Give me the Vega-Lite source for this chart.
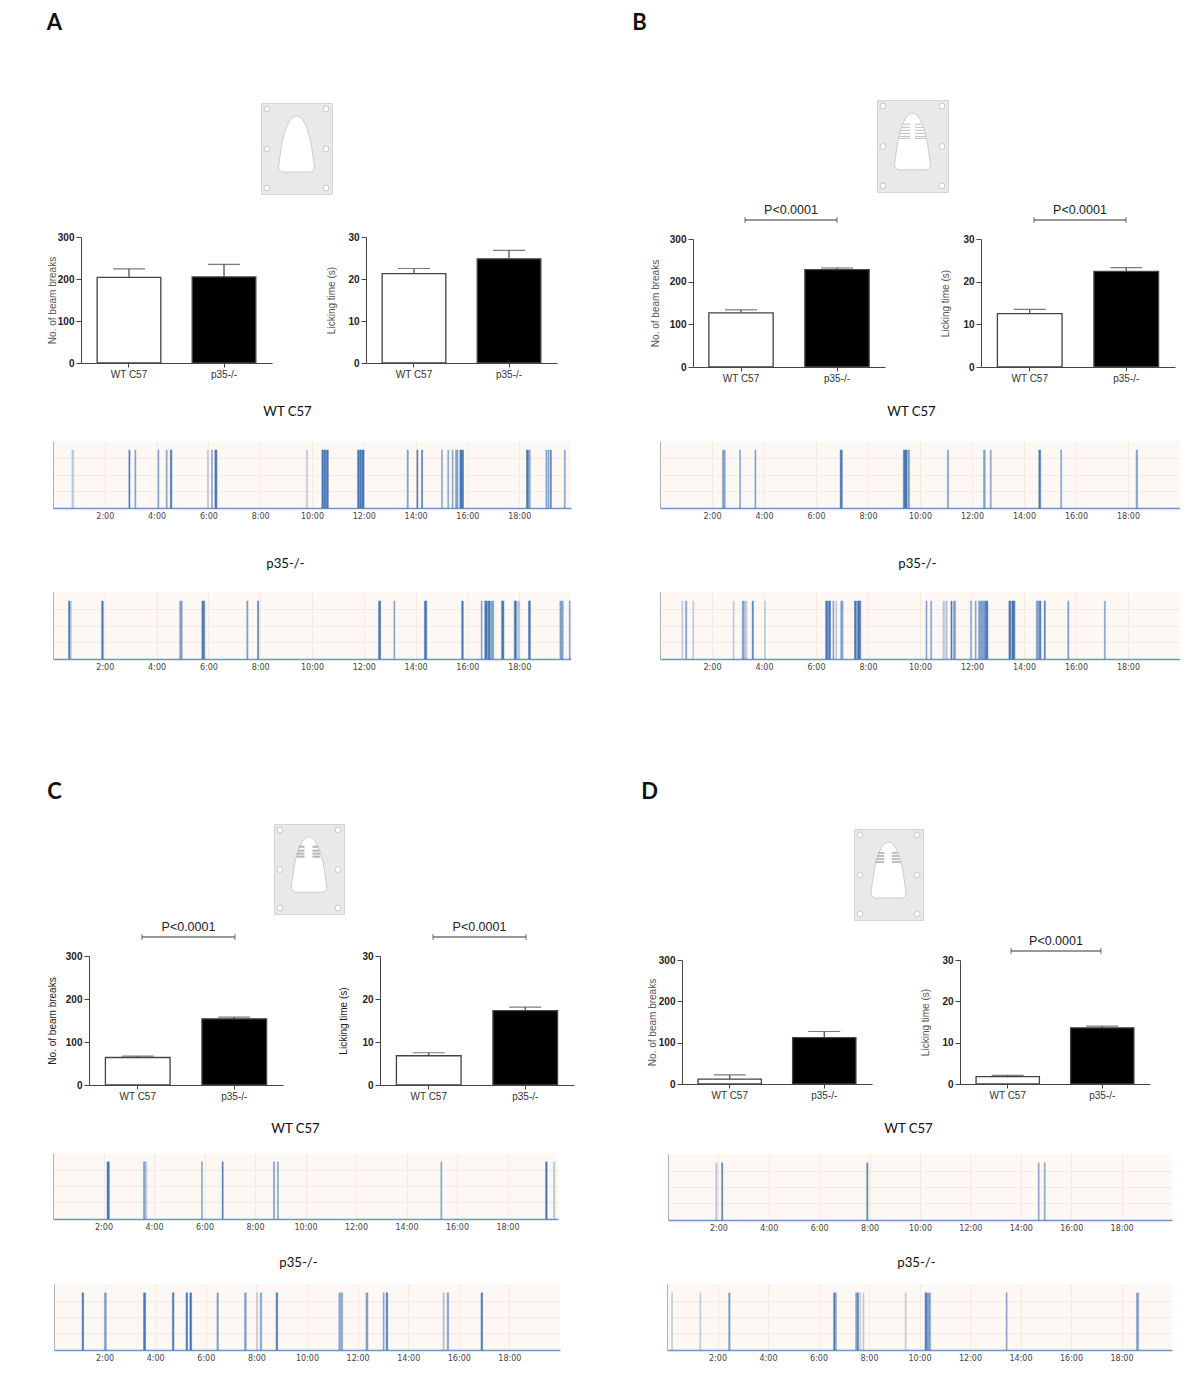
{"$schema":"https://vega.github.io/schema/vega-lite/v6.json","padding":0,"background":"white","bounds":"flush","spacing":0,
"config":{"view":{"stroke":null},"axis":{"grid":false,"labelFont":"Liberation Sans","titleFont":"Liberation Sans","labelFontSize":10,"titleFontSize":10,"titleFontWeight":"normal","labelColor":"#333","titleColor":"#555","domainColor":"#444","tickColor":"#444"},"axisY":{"labelFontWeight":"bold","labelColor":"#222","tickSize":5,"labelPadding":2},"axisX":{"labelAngle":0,"tickSize":4,"labelPadding":2},"text":{"font":"Liberation Sans"}},
"datasets":{
"e":[{}],
"hole":[{"a":6,"v":6},{"a":65,"v":6},{"a":6,"v":46},{"a":65,"v":46},{"a":6,"v":85},{"a":65,"v":85}],
"shape":[{"v":13,"a":35,"b":36},{"v":14,"a":32.5,"b":38.5},{"v":16,"a":30,"b":41},{"v":19,"a":28,"b":43},{"v":23,"a":26,"b":45},{"v":30,"a":23.5,"b":47.5},{"v":40,"a":21,"b":50},{"v":50,"a":19.5,"b":51.5},{"v":60,"a":18,"b":53},{"v":65,"a":17.5,"b":53.5},{"v":67.5,"a":19,"b":52},{"v":69,"a":21,"b":50}],
"slotB":[{"v":24,"a":26,"b":33},{"v":24,"a":38,"b":45},{"v":27,"a":25,"b":33},{"v":27,"a":38,"b":46},{"v":30,"a":24,"b":33},{"v":30,"a":38,"b":47},{"v":33,"a":23,"b":33},{"v":33,"a":38,"b":48},{"v":36,"a":22,"b":33},{"v":36,"a":38,"b":49},{"v":38,"a":22,"b":33},{"v":38,"a":38,"b":49}],
"slotC":[{"v":23,"a":25,"b":31},{"v":23,"a":39,"b":45},{"v":27,"a":24,"b":31},{"v":27,"a":39,"b":46},{"v":30,"a":23,"b":31},{"v":30,"a":39,"b":47},{"v":33,"a":23,"b":31},{"v":33,"a":39,"b":47}],
"slotD":[{"v":24,"a":25,"b":31},{"v":24,"a":39,"b":45},{"v":27,"a":24,"b":31},{"v":27,"a":39,"b":46},{"v":30,"a":23,"b":31},{"v":30,"a":39,"b":47},{"v":33,"a":22,"b":31},{"v":33,"a":39,"b":48}],
"barA1":[{"group":"WT C57","mean":204,"upper":224},{"group":"p35-/-","mean":205,"upper":235}],
"barA2":[{"group":"WT C57","mean":21.3,"upper":22.5},{"group":"p35-/-","mean":24.8,"upper":26.8}],
"barB1":[{"group":"WT C57","mean":127,"upper":134},{"group":"p35-/-","mean":228,"upper":232}],
"barB2":[{"group":"WT C57","mean":12.5,"upper":13.5},{"group":"p35-/-","mean":22.4,"upper":23.3}],
"barC1":[{"group":"WT C57","mean":64,"upper":67},{"group":"p35-/-","mean":154,"upper":158}],
"barC2":[{"group":"WT C57","mean":6.8,"upper":7.5},{"group":"p35-/-","mean":17.3,"upper":18.1}],
"barD1":[{"group":"WT C57","mean":12,"upper":22},{"group":"p35-/-","mean":112,"upper":127}],
"barD2":[{"group":"WT C57","mean":1.8,"upper":2.1},{"group":"p35-/-","mean":13.6,"upper":14}],
"pair":[{"group":"WT C57"},{"group":"p35-/-"}],
"pv":[{"t":"P<0.0001"}],
"wt":[{"t":"WT C57"}],
"ko":[{"t":"p35-/-"}],
"aw":[{"s":0.73,"e":0.80,"n":1},{"s":2.93,"e":2.97,"n":3},{"s":3.16,"e":3.2,"n":2},{"s":4.05,"e":4.09,"n":2},{"s":4.37,"e":4.41,"n":2},{"s":4.53,"e":4.59,"n":3},{"s":5.96,"e":6.0,"n":1},{"s":6.12,"e":6.16,"n":2},{"s":6.25,"e":6.33,"n":3},{"s":9.78,"e":9.83,"n":1},{"s":10.38,"e":10.44,"n":3},{"s":10.46,"e":10.53,"n":3},{"s":10.55,"e":10.63,"n":3},{"s":11.76,"e":11.83,"n":3},{"s":11.85,"e":11.9,"n":3},{"s":11.92,"e":12.01,"n":3},{"s":13.67,"e":13.72,"n":2},{"s":14.05,"e":14.09,"n":3},{"s":14.23,"e":14.27,"n":3},{"s":15.0,"e":15.04,"n":2},{"s":15.24,"e":15.28,"n":2},{"s":15.41,"e":15.45,"n":2},{"s":15.54,"e":15.64,"n":2},{"s":15.71,"e":15.85,"n":3},{"s":18.28,"e":18.36,"n":3},{"s":18.39,"e":18.43,"n":2},{"s":19.03,"e":19.07,"n":2},{"s":19.11,"e":19.15,"n":2},{"s":19.2,"e":19.24,"n":3},{"s":19.74,"e":19.78,"n":2}],
"ap":[{"s":0.6,"e":0.65,"n":3},{"s":0.65,"e":0.71,"n":1},{"s":1.88,"e":1.94,"n":3},{"s":4.89,"e":4.99,"n":2},{"s":5.75,"e":5.82,"n":3},{"s":5.82,"e":5.87,"n":2},{"s":7.48,"e":7.53,"n":2},{"s":7.9,"e":7.94,"n":3},{"s":12.57,"e":12.65,"n":3},{"s":13.16,"e":13.2,"n":2},{"s":14.34,"e":14.43,"n":3},{"s":15.78,"e":15.84,"n":3},{"s":16.53,"e":16.57,"n":2},{"s":16.67,"e":16.77,"n":3},{"s":16.8,"e":16.88,"n":3},{"s":16.91,"e":17.02,"n":2},{"s":17.32,"e":17.41,"n":3},{"s":17.81,"e":17.89,"n":3},{"s":17.92,"e":18.02,"n":1},{"s":18.36,"e":18.43,"n":3},{"s":19.57,"e":19.7,"n":2},{"s":19.93,"e":19.97,"n":2}],
"bw":[{"s":2.4,"e":2.51,"n":2},{"s":3.06,"e":3.1,"n":2},{"s":3.65,"e":3.69,"n":2},{"s":6.93,"e":7.01,"n":3},{"s":9.36,"e":9.5,"n":3},{"s":9.53,"e":9.6,"n":2},{"s":11.05,"e":11.1,"n":2},{"s":12.44,"e":12.51,"n":2},{"s":12.7,"e":12.74,"n":2},{"s":14.57,"e":14.64,"n":3},{"s":15.41,"e":15.45,"n":2},{"s":18.31,"e":18.37,"n":2}],
"bp":[{"s":0.84,"e":0.88,"n":1},{"s":0.98,"e":1.03,"n":2},{"s":1.26,"e":1.3,"n":1},{"s":2.81,"e":2.85,"n":1},{"s":3.16,"e":3.23,"n":2},{"s":3.24,"e":3.34,"n":1},{"s":3.55,"e":3.59,"n":3},{"s":4.02,"e":4.06,"n":1},{"s":6.37,"e":6.45,"n":3},{"s":6.48,"e":6.56,"n":3},{"s":6.65,"e":6.69,"n":2},{"s":6.76,"e":6.8,"n":1},{"s":6.95,"e":7.04,"n":2},{"s":7.48,"e":7.55,"n":3},{"s":7.59,"e":7.72,"n":3},{"s":10.23,"e":10.27,"n":2},{"s":10.41,"e":10.45,"n":2},{"s":10.88,"e":10.94,"n":1},{"s":10.98,"e":11.05,"n":1},{"s":11.19,"e":11.23,"n":3},{"s":11.28,"e":11.37,"n":2},{"s":11.94,"e":11.98,"n":2},{"s":12.12,"e":12.16,"n":2},{"s":12.25,"e":12.5,"n":2},{"s":12.51,"e":12.61,"n":3},{"s":13.42,"e":13.49,"n":3},{"s":13.53,"e":13.65,"n":3},{"s":14.47,"e":14.59,"n":2},{"s":14.6,"e":14.65,"n":3},{"s":14.78,"e":14.82,"n":3},{"s":15.68,"e":15.73,"n":2},{"s":17.09,"e":17.13,"n":2}],
"cw":[{"s":2.14,"e":2.23,"n":3},{"s":3.58,"e":3.64,"n":2},{"s":3.65,"e":3.72,"n":1},{"s":5.88,"e":5.92,"n":2},{"s":6.7,"e":6.74,"n":3},{"s":8.73,"e":8.78,"n":2},{"s":8.89,"e":8.93,"n":2},{"s":15.36,"e":15.4,"n":2},{"s":19.51,"e":19.57,"n":3},{"s":19.82,"e":19.88,"n":1}],
"cp":[{"s":1.11,"e":1.17,"n":3},{"s":1.99,"e":2.07,"n":2},{"s":3.54,"e":3.62,"n":3},{"s":4.68,"e":4.74,"n":3},{"s":5.22,"e":5.28,"n":3},{"s":5.37,"e":5.44,"n":3},{"s":6.44,"e":6.5,"n":2},{"s":7.53,"e":7.6,"n":2},{"s":8.01,"e":8.05,"n":1},{"s":8.15,"e":8.21,"n":2},{"s":8.78,"e":8.84,"n":3},{"s":11.26,"e":11.32,"n":2},{"s":11.35,"e":11.41,"n":2},{"s":12.33,"e":12.41,"n":2},{"s":13.01,"e":13.05,"n":2},{"s":13.13,"e":13.19,"n":3},{"s":15.37,"e":15.43,"n":1},{"s":15.54,"e":15.6,"n":2},{"s":16.88,"e":16.94,"n":3}],
"dw":[{"s":1.89,"e":1.95,"n":1},{"s":2.13,"e":2.17,"n":3},{"s":7.89,"e":7.93,"n":3},{"s":14.69,"e":14.73,"n":2},{"s":14.93,"e":14.97,"n":2}],
"dp":[{"s":0.18,"e":0.22,"n":1},{"s":1.3,"e":1.34,"n":1},{"s":2.44,"e":2.5,"n":2},{"s":6.6,"e":6.65,"n":3},{"s":6.67,"e":6.71,"n":2},{"s":7.47,"e":7.51,"n":2},{"s":7.53,"e":7.58,"n":3},{"s":7.63,"e":7.67,"n":1},{"s":7.76,"e":7.8,"n":1},{"s":9.43,"e":9.47,"n":1},{"s":10.22,"e":10.29,"n":3},{"s":10.3,"e":10.44,"n":2},{"s":13.43,"e":13.47,"n":2},{"s":18.59,"e":18.68,"n":2}]
},
"hconcat":[
{"vconcat":[{"width":1,"height":1,"data":{"name":"e"},"mark":{"type":"rect","opacity":0},"encoding":{}},{"hconcat":[{"width":1,"height":1,"data":{"name":"e"},"mark":{"type":"rect","opacity":0},"encoding":{}},{"width":1,"height":1,"data":{"values":[{"t":"A"}]},"mark":{"type":"text","font":"Lato","fontWeight":"bold","fontSize":22,"color":"#111"},"encoding":{"text":{"field":"t"}}}],"spacing":53,"bounds":"flush"}],"spacing":21,"bounds":"flush"},
{"vconcat":[{"width":1,"height":1,"data":{"name":"e"},"mark":{"type":"rect","opacity":0},"encoding":{}},{"hconcat":[{"width":1,"height":1,"data":{"name":"e"},"mark":{"type":"rect","opacity":0},"encoding":{}},{"width":1,"height":1,"data":{"values":[{"t":"B"}]},"mark":{"type":"text","font":"Lato","fontWeight":"bold","fontSize":22,"color":"#111"},"encoding":{"text":{"field":"t"}}}],"spacing":638,"bounds":"flush"}],"spacing":21,"bounds":"flush"},
{"vconcat":[{"width":1,"height":1,"data":{"name":"e"},"mark":{"type":"rect","opacity":0},"encoding":{}},{"hconcat":[{"width":1,"height":1,"data":{"name":"e"},"mark":{"type":"rect","opacity":0},"encoding":{}},{"width":1,"height":1,"data":{"values":[{"t":"C"}]},"mark":{"type":"text","font":"Lato","fontWeight":"bold","fontSize":22,"color":"#111"},"encoding":{"text":{"field":"t"}}}],"spacing":53,"bounds":"flush"}],"spacing":790,"bounds":"flush"},
{"vconcat":[{"width":1,"height":1,"data":{"name":"e"},"mark":{"type":"rect","opacity":0},"encoding":{}},{"hconcat":[{"width":1,"height":1,"data":{"name":"e"},"mark":{"type":"rect","opacity":0},"encoding":{}},{"width":1,"height":1,"data":{"values":[{"t":"D"}]},"mark":{"type":"text","font":"Lato","fontWeight":"bold","fontSize":22,"color":"#111"},"encoding":{"text":{"field":"t"}}}],"spacing":648,"bounds":"flush"}],"spacing":790,"bounds":"flush"},

{"vconcat":[{"width":1,"height":1,"data":{"name":"e"},"mark":{"type":"rect","opacity":0},"encoding":{}},{"hconcat":[{"width":1,"height":1,"data":{"name":"e"},"mark":{"type":"rect","opacity":0},"encoding":{}},{"width":71,"height":91,"view":{"fill":"#e8e9e8","stroke":"#d4d4d4"},"encoding":{"x":{"field":"a","type":"quantitative","scale":{"domain":[0,71],"nice":false},"axis":null},"y":{"field":"v","type":"quantitative","scale":{"domain":[91,0],"nice":false},"axis":null}},"layer":[{"data":{"name":"shape"},"mark":{"type":"area","orient":"horizontal","fill":"white","stroke":"#bbb","strokeWidth":0.7},"encoding":{"x2":{"field":"b"}}},{"data":{"name":"hole"},"mark":{"type":"point","filled":true,"fill":"white","stroke":"#bbb","strokeWidth":0.8,"size":34,"opacity":1}}]}],"spacing":260,"bounds":"flush"}],"spacing":102,"bounds":"flush"},
{"vconcat":[{"width":1,"height":1,"data":{"name":"e"},"mark":{"type":"rect","opacity":0},"encoding":{}},{"hconcat":[{"width":1,"height":1,"data":{"name":"e"},"mark":{"type":"rect","opacity":0},"encoding":{}},{"width":71,"height":92,"view":{"fill":"#e8e9e8","stroke":"#d4d4d4"},"encoding":{"x":{"field":"a","type":"quantitative","scale":{"domain":[0,71],"nice":false},"axis":null},"y":{"field":"v","type":"quantitative","scale":{"domain":[91,0],"nice":false},"axis":null}},"layer":[{"data":{"name":"shape"},"mark":{"type":"area","orient":"horizontal","fill":"white","stroke":"#bbb","strokeWidth":0.7},"encoding":{"x2":{"field":"b"}}},{"data":{"name":"slotB"},"mark":{"type":"rule","color":"#bdbdbd","strokeWidth":1},"encoding":{"x2":{"field":"b"}}},{"data":{"name":"hole"},"mark":{"type":"point","filled":true,"fill":"white","stroke":"#bbb","strokeWidth":0.8,"size":34,"opacity":1}}]}],"spacing":876,"bounds":"flush"}],"spacing":99,"bounds":"flush"},
{"vconcat":[{"width":1,"height":1,"data":{"name":"e"},"mark":{"type":"rect","opacity":0},"encoding":{}},{"hconcat":[{"width":1,"height":1,"data":{"name":"e"},"mark":{"type":"rect","opacity":0},"encoding":{}},{"width":70,"height":90,"view":{"fill":"#e8e9e8","stroke":"#d4d4d4"},"encoding":{"x":{"field":"a","type":"quantitative","scale":{"domain":[0,71],"nice":false},"axis":null},"y":{"field":"v","type":"quantitative","scale":{"domain":[91,0],"nice":false},"axis":null}},"layer":[{"data":{"name":"shape"},"mark":{"type":"area","orient":"horizontal","fill":"white","stroke":"#bbb","strokeWidth":0.7},"encoding":{"x2":{"field":"b"}}},{"data":{"name":"slotC"},"mark":{"type":"rule","color":"#b5b5b5","strokeWidth":2},"encoding":{"x2":{"field":"b"}}},{"data":{"name":"hole"},"mark":{"type":"point","filled":true,"fill":"white","stroke":"#bbb","strokeWidth":0.8,"size":34,"opacity":1}}]}],"spacing":273,"bounds":"flush"}],"spacing":823,"bounds":"flush"},
{"vconcat":[{"width":1,"height":1,"data":{"name":"e"},"mark":{"type":"rect","opacity":0},"encoding":{}},{"hconcat":[{"width":1,"height":1,"data":{"name":"e"},"mark":{"type":"rect","opacity":0},"encoding":{}},{"width":69,"height":91,"view":{"fill":"#e8e9e8","stroke":"#d4d4d4"},"encoding":{"x":{"field":"a","type":"quantitative","scale":{"domain":[0,71],"nice":false},"axis":null},"y":{"field":"v","type":"quantitative","scale":{"domain":[91,0],"nice":false},"axis":null}},"layer":[{"data":{"name":"shape"},"mark":{"type":"area","orient":"horizontal","fill":"white","stroke":"#bbb","strokeWidth":0.7},"encoding":{"x2":{"field":"b"}}},{"data":{"name":"slotD"},"mark":{"type":"rule","color":"#a8a8a8","strokeWidth":1.5},"encoding":{"x2":{"field":"b"}}},{"data":{"name":"hole"},"mark":{"type":"point","filled":true,"fill":"white","stroke":"#bbb","strokeWidth":0.8,"size":34,"opacity":1}}]}],"spacing":853,"bounds":"flush"}],"spacing":828,"bounds":"flush"},

{"vconcat":[{"width":1,"height":1,"data":{"name":"e"},"mark":{"type":"rect","opacity":0},"encoding":{}},{"hconcat":[{"width":1,"height":1,"data":{"name":"e"},"mark":{"type":"rect","opacity":0},"encoding":{}},{"width":191,"height":126,"data":{"name":"barA1"},"encoding":{"x":{"field":"group","type":"nominal","sort":null,"scale":{"paddingInner":0.33,"paddingOuter":0.17},"axis":{"title":null}},"y":{"field":"upper","type":"quantitative","scale":{"domain":[0,300]},"axis":{"values":[0,100,200,300],"title":"No. of beam breaks","titlePadding":0}}},"layer":[{"mark":{"type":"rule","color":"#444","strokeWidth":1.2},"encoding":{"y2":{"field":"mean"}}},{"mark":{"type":"tick","color":"#444","size":32,"thickness":1.2}},{"mark":{"type":"bar","stroke":"#444","strokeWidth":1.3},"encoding":{"y":{"field":"mean","type":"quantitative","scale":{"domain":[0,300]}},"fill":{"field":"group","type":"nominal","sort":null,"scale":{"domain":["WT C57","p35-/-"],"range":["#ffffff","#000000"]},"legend":null}}}]}],"spacing":80,"bounds":"flush"}],"spacing":236,"bounds":"flush"},
{"vconcat":[{"width":1,"height":1,"data":{"name":"e"},"mark":{"type":"rect","opacity":0},"encoding":{}},{"hconcat":[{"width":1,"height":1,"data":{"name":"e"},"mark":{"type":"rect","opacity":0},"encoding":{}},{"width":191,"height":126,"data":{"name":"barA2"},"encoding":{"x":{"field":"group","type":"nominal","sort":null,"scale":{"paddingInner":0.33,"paddingOuter":0.17},"axis":{"title":null}},"y":{"field":"upper","type":"quantitative","scale":{"domain":[0,30]},"axis":{"values":[0,10,20,30],"title":"Licking time (s)","titlePadding":11}}},"layer":[{"mark":{"type":"rule","color":"#444","strokeWidth":1.2},"encoding":{"y2":{"field":"mean"}}},{"mark":{"type":"tick","color":"#444","size":32,"thickness":1.2}},{"mark":{"type":"bar","stroke":"#444","strokeWidth":1.3},"encoding":{"y":{"field":"mean","type":"quantitative","scale":{"domain":[0,30]}},"fill":{"field":"group","type":"nominal","sort":null,"scale":{"domain":["WT C57","p35-/-"],"range":["#ffffff","#000000"]},"legend":null}}}]}],"spacing":365,"bounds":"flush"}],"spacing":236,"bounds":"flush"},
{"vconcat":[{"width":1,"height":1,"data":{"name":"e"},"mark":{"type":"rect","opacity":0},"encoding":{}},{"hconcat":[{"width":1,"height":1,"data":{"name":"e"},"mark":{"type":"rect","opacity":0},"encoding":{}},{"width":192,"height":128,"data":{"name":"barB1"},"encoding":{"x":{"field":"group","type":"nominal","sort":null,"scale":{"paddingInner":0.33,"paddingOuter":0.165},"axis":{"title":null}},"y":{"field":"upper","type":"quantitative","scale":{"domain":[0,300]},"axis":{"values":[0,100,200,300],"title":"No. of beam breaks","titlePadding":9}}},"layer":[{"mark":{"type":"rule","color":"#444","strokeWidth":1.2},"encoding":{"y2":{"field":"mean"}}},{"mark":{"type":"tick","color":"#444","size":32,"thickness":1.2}},{"mark":{"type":"bar","stroke":"#444","strokeWidth":1.3},"encoding":{"y":{"field":"mean","type":"quantitative","scale":{"domain":[0,300]}},"fill":{"field":"group","type":"nominal","sort":null,"scale":{"domain":["WT C57","p35-/-"],"range":["#ffffff","#000000"]},"legend":null}}}]}],"spacing":692,"bounds":"flush"}],"spacing":238,"bounds":"flush"},
{"vconcat":[{"width":1,"height":1,"data":{"name":"e"},"mark":{"type":"rect","opacity":0},"encoding":{}},{"hconcat":[{"width":1,"height":1,"data":{"name":"e"},"mark":{"type":"rect","opacity":0},"encoding":{}},{"width":194,"height":128,"data":{"name":"barB2"},"encoding":{"x":{"field":"group","type":"nominal","sort":null,"scale":{"paddingInner":0.33,"paddingOuter":0.17},"axis":{"title":null}},"y":{"field":"upper","type":"quantitative","scale":{"domain":[0,30]},"axis":{"values":[0,10,20,30],"title":"Licking time (s)","titlePadding":12}}},"layer":[{"mark":{"type":"rule","color":"#444","strokeWidth":1.2},"encoding":{"y2":{"field":"mean"}}},{"mark":{"type":"tick","color":"#444","size":32,"thickness":1.2}},{"mark":{"type":"bar","stroke":"#444","strokeWidth":1.3},"encoding":{"y":{"field":"mean","type":"quantitative","scale":{"domain":[0,30]}},"fill":{"field":"group","type":"nominal","sort":null,"scale":{"domain":["WT C57","p35-/-"],"range":["#ffffff","#000000"]},"legend":null}}}]}],"spacing":980,"bounds":"flush"}],"spacing":238,"bounds":"flush"},
{"vconcat":[{"width":1,"height":1,"data":{"name":"e"},"mark":{"type":"rect","opacity":0},"encoding":{}},{"hconcat":[{"width":1,"height":1,"data":{"name":"e"},"mark":{"type":"rect","opacity":0},"encoding":{}},{"width":194,"height":129,"data":{"name":"barC1"},"encoding":{"x":{"field":"group","type":"nominal","sort":null,"scale":{"paddingInner":0.33,"paddingOuter":0.17},"axis":{"title":null}},"y":{"field":"upper","type":"quantitative","scale":{"domain":[0,300]},"axis":{"values":[0,100,200,300],"title":"No. of beam breaks","titlePadding":8,"titleColor":"#222"}}},"layer":[{"mark":{"type":"rule","color":"#444","strokeWidth":1.2},"encoding":{"y2":{"field":"mean"}}},{"mark":{"type":"tick","color":"#444","size":32,"thickness":1.2}},{"mark":{"type":"bar","stroke":"#444","strokeWidth":1.3},"encoding":{"y":{"field":"mean","type":"quantitative","scale":{"domain":[0,300]}},"fill":{"field":"group","type":"nominal","sort":null,"scale":{"domain":["WT C57","p35-/-"],"range":["#ffffff","#000000"]},"legend":null}}}]}],"spacing":88,"bounds":"flush"}],"spacing":955,"bounds":"flush"},
{"vconcat":[{"width":1,"height":1,"data":{"name":"e"},"mark":{"type":"rect","opacity":0},"encoding":{}},{"hconcat":[{"width":1,"height":1,"data":{"name":"e"},"mark":{"type":"rect","opacity":0},"encoding":{}},{"width":194,"height":129,"data":{"name":"barC2"},"encoding":{"x":{"field":"group","type":"nominal","sort":null,"scale":{"paddingInner":0.33,"paddingOuter":0.17},"axis":{"title":null}},"y":{"field":"upper","type":"quantitative","scale":{"domain":[0,30]},"axis":{"values":[0,10,20,30],"title":"Licking time (s)","titlePadding":13,"titleColor":"#222"}}},"layer":[{"mark":{"type":"rule","color":"#444","strokeWidth":1.2},"encoding":{"y2":{"field":"mean"}}},{"mark":{"type":"tick","color":"#444","size":32,"thickness":1.2}},{"mark":{"type":"bar","stroke":"#444","strokeWidth":1.3},"encoding":{"y":{"field":"mean","type":"quantitative","scale":{"domain":[0,30]}},"fill":{"field":"group","type":"nominal","sort":null,"scale":{"domain":["WT C57","p35-/-"],"range":["#ffffff","#000000"]},"legend":null}}}]}],"spacing":379,"bounds":"flush"}],"spacing":955,"bounds":"flush"},
{"vconcat":[{"width":1,"height":1,"data":{"name":"e"},"mark":{"type":"rect","opacity":0},"encoding":{}},{"hconcat":[{"width":1,"height":1,"data":{"name":"e"},"mark":{"type":"rect","opacity":0},"encoding":{}},{"width":190,"height":124,"data":{"name":"barD1"},"encoding":{"x":{"field":"group","type":"nominal","sort":null,"scale":{"paddingInner":0.33,"paddingOuter":0.17},"axis":{"title":null}},"y":{"field":"upper","type":"quantitative","scale":{"domain":[0,300]},"axis":{"values":[0,100,200,300],"title":"No. of beam breaks","titlePadding":1}}},"layer":[{"mark":{"type":"rule","color":"#444","strokeWidth":1.2},"encoding":{"y2":{"field":"mean"}}},{"mark":{"type":"tick","color":"#444","size":32,"thickness":1.2}},{"mark":{"type":"bar","stroke":"#444","strokeWidth":1.3},"encoding":{"y":{"field":"mean","type":"quantitative","scale":{"domain":[0,300]}},"fill":{"field":"group","type":"nominal","sort":null,"scale":{"domain":["WT C57","p35-/-"],"range":["#ffffff","#000000"]},"legend":null}}}]}],"spacing":681,"bounds":"flush"}],"spacing":959,"bounds":"flush"},
{"vconcat":[{"width":1,"height":1,"data":{"name":"e"},"mark":{"type":"rect","opacity":0},"encoding":{}},{"hconcat":[{"width":1,"height":1,"data":{"name":"e"},"mark":{"type":"rect","opacity":0},"encoding":{}},{"width":190,"height":124,"data":{"name":"barD2"},"encoding":{"x":{"field":"group","type":"nominal","sort":null,"scale":{"paddingInner":0.33,"paddingOuter":0.17},"axis":{"title":null}},"y":{"field":"upper","type":"quantitative","scale":{"domain":[0,30]},"axis":{"values":[0,10,20,30],"title":"Licking time (s)","titlePadding":11}}},"layer":[{"mark":{"type":"rule","color":"#444","strokeWidth":1.2},"encoding":{"y2":{"field":"mean"}}},{"mark":{"type":"tick","color":"#444","size":32,"thickness":1.2}},{"mark":{"type":"bar","stroke":"#444","strokeWidth":1.3},"encoding":{"y":{"field":"mean","type":"quantitative","scale":{"domain":[0,30]}},"fill":{"field":"group","type":"nominal","sort":null,"scale":{"domain":["WT C57","p35-/-"],"range":["#ffffff","#000000"]},"legend":null}}}]}],"spacing":959,"bounds":"flush"}],"spacing":959,"bounds":"flush"},

{"vconcat":[{"width":1,"height":1,"data":{"name":"e"},"mark":{"type":"rect","opacity":0},"encoding":{}},{"hconcat":[{"width":1,"height":1,"data":{"name":"e"},"mark":{"type":"rect","opacity":0},"encoding":{}},{"width":92,"height":6,"layer":[{"data":{"name":"pair"},"mark":{"type":"line","color":"#333","strokeWidth":1},"encoding":{"x":{"field":"group","type":"nominal","sort":null,"scale":{"type":"point","padding":0},"axis":null}}},{"data":{"name":"pair"},"mark":{"type":"tick","color":"#333","size":6,"thickness":1},"encoding":{"x":{"field":"group","type":"nominal","sort":null,"scale":{"type":"point","padding":0},"axis":null}}},{"data":{"name":"pv"},"mark":{"type":"text","fontSize":12.5,"dy":-10,"color":"#222"},"encoding":{"text":{"field":"t"}}}]}],"spacing":744,"bounds":"flush"}],"spacing":216,"bounds":"flush"},
{"vconcat":[{"width":1,"height":1,"data":{"name":"e"},"mark":{"type":"rect","opacity":0},"encoding":{}},{"hconcat":[{"width":1,"height":1,"data":{"name":"e"},"mark":{"type":"rect","opacity":0},"encoding":{}},{"width":92,"height":6,"layer":[{"data":{"name":"pair"},"mark":{"type":"line","color":"#333","strokeWidth":1},"encoding":{"x":{"field":"group","type":"nominal","sort":null,"scale":{"type":"point","padding":0},"axis":null}}},{"data":{"name":"pair"},"mark":{"type":"tick","color":"#333","size":6,"thickness":1},"encoding":{"x":{"field":"group","type":"nominal","sort":null,"scale":{"type":"point","padding":0},"axis":null}}},{"data":{"name":"pv"},"mark":{"type":"text","fontSize":12.5,"dy":-10,"color":"#222"},"encoding":{"text":{"field":"t"}}}]}],"spacing":1033,"bounds":"flush"}],"spacing":216,"bounds":"flush"},
{"vconcat":[{"width":1,"height":1,"data":{"name":"e"},"mark":{"type":"rect","opacity":0},"encoding":{}},{"hconcat":[{"width":1,"height":1,"data":{"name":"e"},"mark":{"type":"rect","opacity":0},"encoding":{}},{"width":93,"height":6,"layer":[{"data":{"name":"pair"},"mark":{"type":"line","color":"#333","strokeWidth":1},"encoding":{"x":{"field":"group","type":"nominal","sort":null,"scale":{"type":"point","padding":0},"axis":null}}},{"data":{"name":"pair"},"mark":{"type":"tick","color":"#333","size":6,"thickness":1},"encoding":{"x":{"field":"group","type":"nominal","sort":null,"scale":{"type":"point","padding":0},"axis":null}}},{"data":{"name":"pv"},"mark":{"type":"text","fontSize":12.5,"dy":-10,"color":"#222"},"encoding":{"text":{"field":"t"}}}]}],"spacing":141,"bounds":"flush"}],"spacing":933,"bounds":"flush"},
{"vconcat":[{"width":1,"height":1,"data":{"name":"e"},"mark":{"type":"rect","opacity":0},"encoding":{}},{"hconcat":[{"width":1,"height":1,"data":{"name":"e"},"mark":{"type":"rect","opacity":0},"encoding":{}},{"width":93,"height":6,"layer":[{"data":{"name":"pair"},"mark":{"type":"line","color":"#333","strokeWidth":1},"encoding":{"x":{"field":"group","type":"nominal","sort":null,"scale":{"type":"point","padding":0},"axis":null}}},{"data":{"name":"pair"},"mark":{"type":"tick","color":"#333","size":6,"thickness":1},"encoding":{"x":{"field":"group","type":"nominal","sort":null,"scale":{"type":"point","padding":0},"axis":null}}},{"data":{"name":"pv"},"mark":{"type":"text","fontSize":12.5,"dy":-10,"color":"#222"},"encoding":{"text":{"field":"t"}}}]}],"spacing":432,"bounds":"flush"}],"spacing":933,"bounds":"flush"},
{"vconcat":[{"width":1,"height":1,"data":{"name":"e"},"mark":{"type":"rect","opacity":0},"encoding":{}},{"hconcat":[{"width":1,"height":1,"data":{"name":"e"},"mark":{"type":"rect","opacity":0},"encoding":{}},{"width":90,"height":6,"layer":[{"data":{"name":"pair"},"mark":{"type":"line","color":"#333","strokeWidth":1},"encoding":{"x":{"field":"group","type":"nominal","sort":null,"scale":{"type":"point","padding":0},"axis":null}}},{"data":{"name":"pair"},"mark":{"type":"tick","color":"#333","size":6,"thickness":1},"encoding":{"x":{"field":"group","type":"nominal","sort":null,"scale":{"type":"point","padding":0},"axis":null}}},{"data":{"name":"pv"},"mark":{"type":"text","fontSize":12.5,"dy":-10,"color":"#222"},"encoding":{"text":{"field":"t"}}}]}],"spacing":1010,"bounds":"flush"}],"spacing":947,"bounds":"flush"},

{"vconcat":[{"width":1,"height":1,"data":{"name":"e"},"mark":{"type":"rect","opacity":0},"encoding":{}},{"hconcat":[{"width":1,"height":1,"data":{"name":"e"},"mark":{"type":"rect","opacity":0},"encoding":{}},{"width":1,"height":1,"data":{"name":"wt"},"mark":{"type":"text","font":"Lato","fontSize":13.2,"color":"#111"},"encoding":{"text":{"field":"t"}}}],"spacing":286,"bounds":"flush"}],"spacing":410,"bounds":"flush"},
{"vconcat":[{"width":1,"height":1,"data":{"name":"e"},"mark":{"type":"rect","opacity":0},"encoding":{}},{"hconcat":[{"width":1,"height":1,"data":{"name":"e"},"mark":{"type":"rect","opacity":0},"encoding":{}},{"width":1,"height":1,"data":{"name":"ko"},"mark":{"type":"text","font":"Lato","fontSize":13.2,"color":"#111"},"encoding":{"text":{"field":"t"}}}],"spacing":284,"bounds":"flush"}],"spacing":562,"bounds":"flush"},
{"vconcat":[{"width":1,"height":1,"data":{"name":"e"},"mark":{"type":"rect","opacity":0},"encoding":{}},{"hconcat":[{"width":1,"height":1,"data":{"name":"e"},"mark":{"type":"rect","opacity":0},"encoding":{}},{"width":1,"height":1,"data":{"name":"wt"},"mark":{"type":"text","font":"Lato","fontSize":13.2,"color":"#111"},"encoding":{"text":{"field":"t"}}}],"spacing":910,"bounds":"flush"}],"spacing":410,"bounds":"flush"},
{"vconcat":[{"width":1,"height":1,"data":{"name":"e"},"mark":{"type":"rect","opacity":0},"encoding":{}},{"hconcat":[{"width":1,"height":1,"data":{"name":"e"},"mark":{"type":"rect","opacity":0},"encoding":{}},{"width":1,"height":1,"data":{"name":"ko"},"mark":{"type":"text","font":"Lato","fontSize":13.2,"color":"#111"},"encoding":{"text":{"field":"t"}}}],"spacing":916,"bounds":"flush"}],"spacing":562,"bounds":"flush"},
{"vconcat":[{"width":1,"height":1,"data":{"name":"e"},"mark":{"type":"rect","opacity":0},"encoding":{}},{"hconcat":[{"width":1,"height":1,"data":{"name":"e"},"mark":{"type":"rect","opacity":0},"encoding":{}},{"width":1,"height":1,"data":{"name":"wt"},"mark":{"type":"text","font":"Lato","fontSize":13.2,"color":"#111"},"encoding":{"text":{"field":"t"}}}],"spacing":294,"bounds":"flush"}],"spacing":1127,"bounds":"flush"},
{"vconcat":[{"width":1,"height":1,"data":{"name":"e"},"mark":{"type":"rect","opacity":0},"encoding":{}},{"hconcat":[{"width":1,"height":1,"data":{"name":"e"},"mark":{"type":"rect","opacity":0},"encoding":{}},{"width":1,"height":1,"data":{"name":"ko"},"mark":{"type":"text","font":"Lato","fontSize":13.2,"color":"#111"},"encoding":{"text":{"field":"t"}}}],"spacing":297,"bounds":"flush"}],"spacing":1261,"bounds":"flush"},
{"vconcat":[{"width":1,"height":1,"data":{"name":"e"},"mark":{"type":"rect","opacity":0},"encoding":{}},{"hconcat":[{"width":1,"height":1,"data":{"name":"e"},"mark":{"type":"rect","opacity":0},"encoding":{}},{"width":1,"height":1,"data":{"name":"wt"},"mark":{"type":"text","font":"Lato","fontSize":13.2,"color":"#111"},"encoding":{"text":{"field":"t"}}}],"spacing":907,"bounds":"flush"}],"spacing":1127,"bounds":"flush"},
{"vconcat":[{"width":1,"height":1,"data":{"name":"e"},"mark":{"type":"rect","opacity":0},"encoding":{}},{"hconcat":[{"width":1,"height":1,"data":{"name":"e"},"mark":{"type":"rect","opacity":0},"encoding":{}},{"width":1,"height":1,"data":{"name":"ko"},"mark":{"type":"text","font":"Lato","fontSize":13.2,"color":"#111"},"encoding":{"text":{"field":"t"}}}],"spacing":915,"bounds":"flush"}],"spacing":1261,"bounds":"flush"},

{"vconcat":[{"width":1,"height":1,"data":{"name":"e"},"mark":{"type":"rect","opacity":0},"encoding":{}},{"hconcat":[{"width":1,"height":1,"data":{"name":"e"},"mark":{"type":"rect","opacity":0},"encoding":{}},{"width":518,"height":67,"view":{"fill":"#fdf8f3"},"data":{"name":"aw"},"mark":{"type":"rect","color":"#3f72b5","stroke":"#3f72b5","strokeWidth":0.5},"encoding":{"x":{"field":"s","type":"quantitative","scale":{"domain":[0,20],"nice":false},"axis":{"title":null,"values":[2,4,6,8,10,12,14,16,18],"labelExpr":"datum.value+':00'","labelFont":"DejaVu Sans","labelFontSize":8,"labelColor":"#444","domainColor":"#6f93c5","domainWidth":1.5,"ticks":false,"labelPadding":4,"grid":true,"gridColor":"#f5eadf"}},"x2":{"field":"e"},"y":{"datum":1,"type":"quantitative","scale":{"domain":[0,1.155],"nice":false},"axis":{"title":null,"values":[0.29,0.57,0.86],"labels":false,"ticks":false,"grid":true,"gridColor":"#f5eadf","domainColor":"#b0b0b0"}},"y2":{"datum":0},"opacity":{"field":"n","type":"quantitative","scale":{"domain":[1,3],"range":[0.35,0.95]},"legend":null}}}],"spacing":52,"bounds":"flush"}],"spacing":440,"bounds":"flush"},
{"vconcat":[{"width":1,"height":1,"data":{"name":"e"},"mark":{"type":"rect","opacity":0},"encoding":{}},{"hconcat":[{"width":1,"height":1,"data":{"name":"e"},"mark":{"type":"rect","opacity":0},"encoding":{}},{"width":518,"height":67,"view":{"fill":"#fdf8f3"},"data":{"name":"ap"},"mark":{"type":"rect","color":"#3f72b5","stroke":"#3f72b5","strokeWidth":0.5},"encoding":{"x":{"field":"s","type":"quantitative","scale":{"domain":[0,20],"nice":false},"axis":{"title":null,"values":[2,4,6,8,10,12,14,16,18],"labelExpr":"datum.value+':00'","labelFont":"DejaVu Sans","labelFontSize":8,"labelColor":"#444","domainColor":"#6f93c5","domainWidth":1.5,"ticks":false,"labelPadding":4,"grid":true,"gridColor":"#f5eadf"}},"x2":{"field":"e"},"y":{"datum":1,"type":"quantitative","scale":{"domain":[0,1.155],"nice":false},"axis":{"title":null,"values":[0.29,0.57,0.86],"labels":false,"ticks":false,"grid":true,"gridColor":"#f5eadf","domainColor":"#b0b0b0"}},"y2":{"datum":0},"opacity":{"field":"n","type":"quantitative","scale":{"domain":[1,3],"range":[0.35,0.95]},"legend":null}}}],"spacing":52,"bounds":"flush"}],"spacing":591,"bounds":"flush"},
{"vconcat":[{"width":1,"height":1,"data":{"name":"e"},"mark":{"type":"rect","opacity":0},"encoding":{}},{"hconcat":[{"width":1,"height":1,"data":{"name":"e"},"mark":{"type":"rect","opacity":0},"encoding":{}},{"width":520,"height":67,"view":{"fill":"#fdf8f3"},"data":{"name":"bw"},"mark":{"type":"rect","color":"#3f72b5","stroke":"#3f72b5","strokeWidth":0.5},"encoding":{"x":{"field":"s","type":"quantitative","scale":{"domain":[0,20],"nice":false},"axis":{"title":null,"values":[2,4,6,8,10,12,14,16,18],"labelExpr":"datum.value+':00'","labelFont":"DejaVu Sans","labelFontSize":8,"labelColor":"#444","domainColor":"#6f93c5","domainWidth":1.5,"ticks":false,"labelPadding":4,"grid":true,"gridColor":"#f5eadf"}},"x2":{"field":"e"},"y":{"datum":1,"type":"quantitative","scale":{"domain":[0,1.155],"nice":false},"axis":{"title":null,"values":[0.29,0.57,0.86],"labels":false,"ticks":false,"grid":true,"gridColor":"#f5eadf","domainColor":"#b0b0b0"}},"y2":{"datum":0},"opacity":{"field":"n","type":"quantitative","scale":{"domain":[1,3],"range":[0.35,0.95]},"legend":null}}}],"spacing":659,"bounds":"flush"}],"spacing":440,"bounds":"flush"},
{"vconcat":[{"width":1,"height":1,"data":{"name":"e"},"mark":{"type":"rect","opacity":0},"encoding":{}},{"hconcat":[{"width":1,"height":1,"data":{"name":"e"},"mark":{"type":"rect","opacity":0},"encoding":{}},{"width":520,"height":67,"view":{"fill":"#fdf8f3"},"data":{"name":"bp"},"mark":{"type":"rect","color":"#3f72b5","stroke":"#3f72b5","strokeWidth":0.5},"encoding":{"x":{"field":"s","type":"quantitative","scale":{"domain":[0,20],"nice":false},"axis":{"title":null,"values":[2,4,6,8,10,12,14,16,18],"labelExpr":"datum.value+':00'","labelFont":"DejaVu Sans","labelFontSize":8,"labelColor":"#444","domainColor":"#6f93c5","domainWidth":1.5,"ticks":false,"labelPadding":4,"grid":true,"gridColor":"#f5eadf"}},"x2":{"field":"e"},"y":{"datum":1,"type":"quantitative","scale":{"domain":[0,1.155],"nice":false},"axis":{"title":null,"values":[0.29,0.57,0.86],"labels":false,"ticks":false,"grid":true,"gridColor":"#f5eadf","domainColor":"#b0b0b0"}},"y2":{"datum":0},"opacity":{"field":"n","type":"quantitative","scale":{"domain":[1,3],"range":[0.35,0.95]},"legend":null}}}],"spacing":659,"bounds":"flush"}],"spacing":591,"bounds":"flush"},
{"vconcat":[{"width":1,"height":1,"data":{"name":"e"},"mark":{"type":"rect","opacity":0},"encoding":{}},{"hconcat":[{"width":1,"height":1,"data":{"name":"e"},"mark":{"type":"rect","opacity":0},"encoding":{}},{"width":505,"height":66,"view":{"fill":"#fdf8f3"},"data":{"name":"cw"},"mark":{"type":"rect","color":"#3f72b5","stroke":"#3f72b5","strokeWidth":0.5},"encoding":{"x":{"field":"s","type":"quantitative","scale":{"domain":[0,20],"nice":false},"axis":{"title":null,"values":[2,4,6,8,10,12,14,16,18],"labelExpr":"datum.value+':00'","labelFont":"DejaVu Sans","labelFontSize":8,"labelColor":"#444","domainColor":"#6f93c5","domainWidth":1.5,"ticks":false,"labelPadding":4,"grid":true,"gridColor":"#f5eadf"}},"x2":{"field":"e"},"y":{"datum":1,"type":"quantitative","scale":{"domain":[0,1.155],"nice":false},"axis":{"title":null,"values":[0.29,0.57,0.86],"labels":false,"ticks":false,"grid":true,"gridColor":"#f5eadf","domainColor":"#b0b0b0"}},"y2":{"datum":0},"opacity":{"field":"n","type":"quantitative","scale":{"domain":[1,3],"range":[0.35,0.95]},"legend":null}}}],"spacing":52,"bounds":"flush"}],"spacing":1152,"bounds":"flush"},
{"vconcat":[{"width":1,"height":1,"data":{"name":"e"},"mark":{"type":"rect","opacity":0},"encoding":{}},{"hconcat":[{"width":1,"height":1,"data":{"name":"e"},"mark":{"type":"rect","opacity":0},"encoding":{}},{"width":506,"height":66,"view":{"fill":"#fdf8f3"},"data":{"name":"cp"},"mark":{"type":"rect","color":"#3f72b5","stroke":"#3f72b5","strokeWidth":0.5},"encoding":{"x":{"field":"s","type":"quantitative","scale":{"domain":[0,20],"nice":false},"axis":{"title":null,"values":[2,4,6,8,10,12,14,16,18],"labelExpr":"datum.value+':00'","labelFont":"DejaVu Sans","labelFontSize":8,"labelColor":"#444","domainColor":"#6f93c5","domainWidth":1.5,"ticks":false,"labelPadding":4,"grid":true,"gridColor":"#f5eadf"}},"x2":{"field":"e"},"y":{"datum":1,"type":"quantitative","scale":{"domain":[0,1.155],"nice":false},"axis":{"title":null,"values":[0.29,0.57,0.86],"labels":false,"ticks":false,"grid":true,"gridColor":"#f5eadf","domainColor":"#b0b0b0"}},"y2":{"datum":0},"opacity":{"field":"n","type":"quantitative","scale":{"domain":[1,3],"range":[0.35,0.95]},"legend":null}}}],"spacing":53,"bounds":"flush"}],"spacing":1283,"bounds":"flush"},
{"vconcat":[{"width":1,"height":1,"data":{"name":"e"},"mark":{"type":"rect","opacity":0},"encoding":{}},{"hconcat":[{"width":1,"height":1,"data":{"name":"e"},"mark":{"type":"rect","opacity":0},"encoding":{}},{"width":504,"height":66,"view":{"fill":"#fdf8f3"},"data":{"name":"dw"},"mark":{"type":"rect","color":"#3f72b5","stroke":"#3f72b5","strokeWidth":0.5},"encoding":{"x":{"field":"s","type":"quantitative","scale":{"domain":[0,20],"nice":false},"axis":{"title":null,"values":[2,4,6,8,10,12,14,16,18],"labelExpr":"datum.value+':00'","labelFont":"DejaVu Sans","labelFontSize":8,"labelColor":"#444","domainColor":"#6f93c5","domainWidth":1.5,"ticks":false,"labelPadding":4,"grid":true,"gridColor":"#f5eadf"}},"x2":{"field":"e"},"y":{"datum":1,"type":"quantitative","scale":{"domain":[0,1.155],"nice":false},"axis":{"title":null,"values":[0.29,0.57,0.86],"labels":false,"ticks":false,"grid":true,"gridColor":"#f5eadf","domainColor":"#b0b0b0"}},"y2":{"datum":0},"opacity":{"field":"n","type":"quantitative","scale":{"domain":[1,3],"range":[0.35,0.95]},"legend":null}}}],"spacing":667,"bounds":"flush"}],"spacing":1153,"bounds":"flush"},
{"vconcat":[{"width":1,"height":1,"data":{"name":"e"},"mark":{"type":"rect","opacity":0},"encoding":{}},{"hconcat":[{"width":1,"height":1,"data":{"name":"e"},"mark":{"type":"rect","opacity":0},"encoding":{}},{"width":505,"height":66,"view":{"fill":"#fdf8f3"},"data":{"name":"dp"},"mark":{"type":"rect","color":"#3f72b5","stroke":"#3f72b5","strokeWidth":0.5},"encoding":{"x":{"field":"s","type":"quantitative","scale":{"domain":[0,20],"nice":false},"axis":{"title":null,"values":[2,4,6,8,10,12,14,16,18],"labelExpr":"datum.value+':00'","labelFont":"DejaVu Sans","labelFontSize":8,"labelColor":"#444","domainColor":"#6f93c5","domainWidth":1.5,"ticks":false,"labelPadding":4,"grid":true,"gridColor":"#f5eadf"}},"x2":{"field":"e"},"y":{"datum":1,"type":"quantitative","scale":{"domain":[0,1.155],"nice":false},"axis":{"title":null,"values":[0.29,0.57,0.86],"labels":false,"ticks":false,"grid":true,"gridColor":"#f5eadf","domainColor":"#b0b0b0"}},"y2":{"datum":0},"opacity":{"field":"n","type":"quantitative","scale":{"domain":[1,3],"range":[0.35,0.95]},"legend":null}}}],"spacing":666,"bounds":"flush"}],"spacing":1283,"bounds":"flush"}
],"spacing":0}
